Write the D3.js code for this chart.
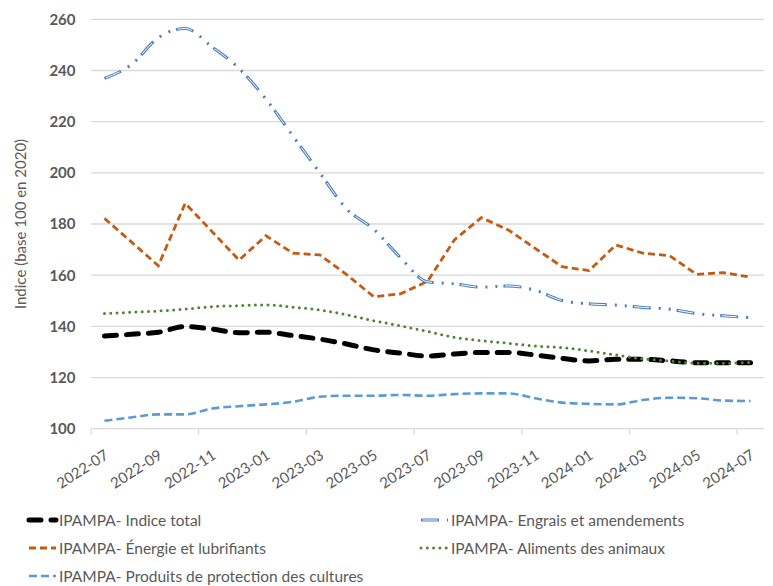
<!DOCTYPE html>
<html>
<head>
<meta charset="utf-8">
<script src="https://cdn.jsdelivr.net/npm/d3@7"></script>
<style>
  body { margin: 0; background: #fff; }
  svg { font-family: Lato, "Open Sans", sans-serif; }
</style>
</head>
<body>
<svg id="chart"></svg>
<script>
// months shown on the category axis (one point per month)
const months = ["2022-07", "2022-08", "2022-09", "2022-10", "2022-11", "2022-12",
  "2023-01", "2023-02", "2023-03", "2023-04", "2023-05", "2023-06",
  "2023-07", "2023-08", "2023-09", "2023-10", "2023-11", "2023-12",
  "2024-01", "2024-02", "2024-03", "2024-04", "2024-05", "2024-06", "2024-07"];

const indiceTotal = [136.2, 136.9, 137.7, 139.9, 138.9, 137.5, 137.7, 136.4, 135.0, 133.1, 130.8, 129.5,
  128.4, 129.2, 129.8, 129.8, 128.8, 127.5, 126.5, 127.1, 127.1, 126.5, 125.8, 125.8, 125.8];
const engrais = [236.9, 242.3, 252.8, 256.4, 249.2, 240.8, 228.8, 214.4, 200.0, 185.8, 178.0, 166.8,
  157.4, 156.6, 155.3, 155.8, 154.1, 150.1, 148.8, 148.3, 147.4, 146.7, 145.0, 144.1, 143.4];
const energie = [182.2, 173.0, 163.7, 188.1, 177.0, 165.9, 175.4, 168.6, 167.9, 160.2, 151.6, 152.7,
  157.6, 173.8, 182.5, 177.7, 170.5, 163.3, 161.8, 171.8, 168.6, 167.6, 160.3, 161.0, 159.2];
const aliments = [145.0, 145.5, 146.0, 146.7, 147.7, 148.1, 148.4, 147.5, 146.4, 144.5, 142.2, 140.2,
  138.0, 135.7, 134.4, 133.4, 132.3, 131.7, 130.4, 128.8, 127.3, 126.5, 125.6, 125.6, 125.9];
const produits = [103.1, 104.4, 105.6, 105.6, 107.9, 108.8, 109.5, 110.5, 112.5, 112.9, 112.9, 113.2,
  112.9, 113.5, 113.8, 113.8, 111.9, 110.2, 109.7, 109.5, 111.2, 112.1, 111.9, 111.0, 110.8];

const yTicks = [100, 120, 140, 160, 180, 200, 220, 240, 260];
const yTitle = "Indice (base 100 en 2020)";

class LineChart {
  constructor(_config) {
    this.config = {
      parentElement: _config.parentElement,
      containerWidth: 773,
      containerHeight: 586,
      margin: { top: 19.3, bottom: 157.3, right: 9, left: 91 }
    };
    this.initVis();
  }

  initVis() {
    let vis = this;
    vis.width = vis.config.containerWidth - vis.config.margin.left - vis.config.margin.right;
    vis.height = vis.config.containerHeight - vis.config.margin.top - vis.config.margin.bottom;

    vis.svg = d3.select(vis.config.parentElement)
      .attr("width", vis.config.containerWidth)
      .attr("height", vis.config.containerHeight);

    vis.chart = vis.svg.append("g")
      .attr("transform", `translate(${vis.config.margin.left},${vis.config.margin.top})`);

    vis.xScale = d3.scaleBand().domain(months).range([0, vis.width]).padding(0);
    vis.yScale = d3.scaleLinear().domain([100, 260]).range([vis.height, 0]);

    vis.series = [
      { name: "IPAMPA- Indice total", values: indiceTotal, style: "total" },
      { name: "IPAMPA- Engrais et amendements", values: engrais, style: "engrais" },
      { name: "IPAMPA- Énergie et lubrifiants", values: energie, style: "energie" },
      { name: "IPAMPA- Aliments des animaux", values: aliments, style: "aliments" },
      { name: "IPAMPA- Produits de protection des cultures", values: produits, style: "produits" }
    ];

    vis.renderVis();
  }

  // draws one series style onto a selection with a given path string
  drawStyled(g, style, d) {
    if (style === "total") {
      g.append("path").attr("d", d).attr("fill", "none").attr("stroke", "#000")
        .attr("stroke-width", 5).attr("stroke-linecap", "round").attr("stroke-dasharray", "12,10");
    } else if (style === "engrais") {
      g.append("path").attr("d", d).attr("fill", "none").attr("stroke", "#4a7cc2")
        .attr("stroke-width", 3).attr("stroke-dasharray", "18,8,2,8,2,6");
      g.append("path").attr("d", d).attr("fill", "none").attr("stroke", "#fff")
        .attr("stroke-width", 1).attr("stroke-dasharray", "0,1.5,15,27.5");
    } else if (style === "energie") {
      g.append("path").attr("d", d).attr("fill", "none").attr("stroke", "#c55a11")
        .attr("stroke-width", 2.8).attr("stroke-dasharray", "7,4");
    } else if (style === "aliments") {
      g.append("path").attr("d", d).attr("fill", "none").attr("stroke", "#548235")
        .attr("stroke-width", 3).attr("stroke-linecap", "round").attr("stroke-dasharray", "0,6.3");
    } else {
      g.append("path").attr("d", d).attr("fill", "none").attr("stroke", "#5b9bd5")
        .attr("stroke-width", 2.6).attr("stroke-dasharray", "8,4");
    }
  }

  renderVis() {
    let vis = this;
    const bw = vis.xScale.bandwidth();

    // gridlines
    vis.chart.append("g").selectAll("line")
      .data(yTicks.slice(1))
      .join("line")
      .attr("x1", 0).attr("x2", vis.width)
      .attr("y1", d => vis.yScale(d)).attr("y2", d => vis.yScale(d))
      .attr("stroke", "#d9d9d9").attr("stroke-width", 1.3);

    // x axis: line, tick marks every 4 months, labels every 2 months
    const xAxisG = vis.chart.append("g").attr("transform", `translate(0,${vis.height})`);
    xAxisG.append("line").attr("x1", 0).attr("x2", vis.width)
      .attr("stroke", "#d9d9d9").attr("stroke-width", 1.3);
    xAxisG.selectAll(".tick-mark")
      .data(months.filter((m, i) => i % 4 === 0))
      .join("line")
      .attr("x1", d => vis.xScale(d)).attr("x2", d => vis.xScale(d))
      .attr("y1", 0).attr("y2", 6)
      .attr("stroke", "#d9d9d9").attr("stroke-width", 1.3);
    xAxisG.selectAll("text")
      .data(months.filter((m, i) => i % 2 === 0))
      .join("text")
      .attr("transform", d => `translate(${vis.xScale(d) + bw / 2 + 5},29) rotate(-33)`)
      .attr("text-anchor", "end")
      .attr("fill", "#595959")
      .style("font-size", "15px")
      .text(d => d);

    // y axis labels
    vis.chart.append("g").selectAll("text")
      .data(yTicks)
      .join("text")
      .attr("x", -15.5)
      .attr("y", d => vis.yScale(d))
      .attr("dy", "0.36em")
      .attr("text-anchor", "end")
      .attr("fill", "#595959")
      .style("font-size", "15px")
      .style("font-weight", "bold")
      .text(d => d);

    vis.svg.append("text")
      .attr("transform", "translate(26,224) rotate(-90)")
      .attr("text-anchor", "middle")
      .attr("fill", "#595959")
      .style("font-size", "15px")
      .text(yTitle);

    // lines
    const line = (curve) => d3.line()
      .x((d, i) => vis.xScale(months[i]) + bw / 2)
      .y(d => vis.yScale(d))
      .curve(curve);

    const order = ["produits", "energie", "engrais", "total", "aliments"];
    order.forEach(key => {
      const s = vis.series.find(s => s.style === key);
      const curve = key === "energie" ? d3.curveLinear : d3.curveMonotoneX;
      vis.drawStyled(vis.chart.append("g"), key, line(curve)(s.values));
    });

    // legend
    const legendPos = [
      { x: 27, y: 520 }, { x: 419, y: 520 },
      { x: 27, y: 548 }, { x: 419, y: 548 },
      { x: 27, y: 576 }
    ];
    const legend = vis.svg.append("g");
    vis.series.forEach((s, i) => {
      const p = legendPos[i];
      const g = legend.append("g");
      vis.drawStyled(g, s.style, `M${p.x + 2},${p.y}H${p.x + 29}`);
      g.append("text")
        .attr("x", p.x + 32).attr("y", p.y)
        .attr("dy", "0.36em")
        .attr("fill", "#595959")
        .style("font-size", "15.5px")
        .text(s.name);
    });
  }
}

new LineChart({ parentElement: "#chart" });
</script>
</body>
</html>
